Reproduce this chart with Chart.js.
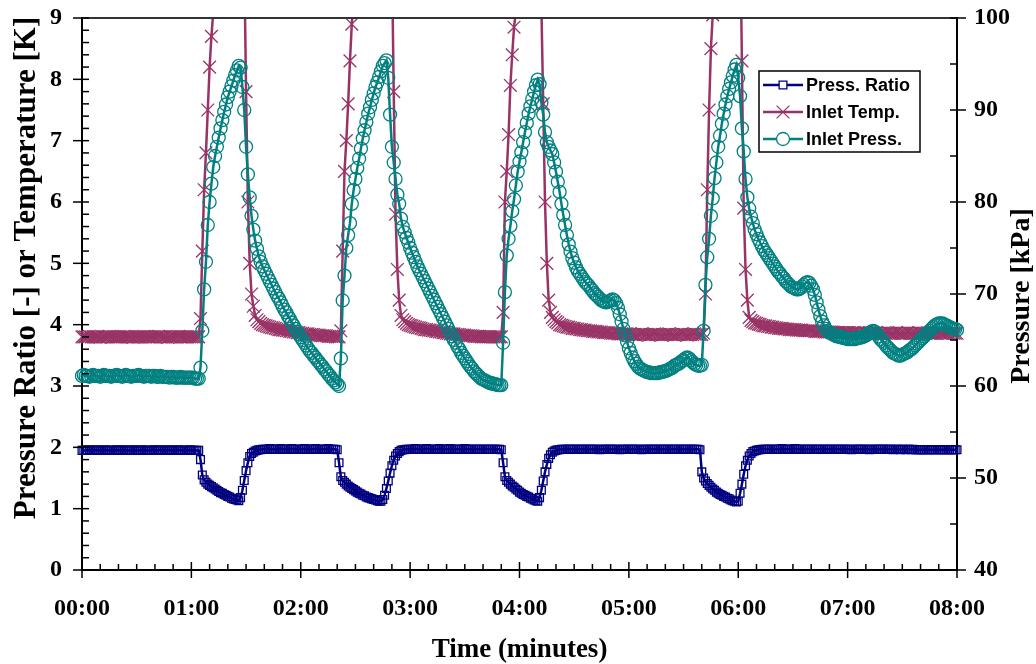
<!DOCTYPE html>
<html>
<head>
<meta charset="utf-8">
<script src="https://cdn.jsdelivr.net/npm/chart.js@4/dist/chart.umd.min.js"></script>
<style>
  body { margin: 0; background: #fff; }
</style>
</head>
<body>
<canvas id="chart" width="1036" height="664"></canvas>
<script>
// logged once a second, 00:00 to 08:00 (one row = 20 s)
const SAMPLE_S = 1

const timeLabels = ['00:00', '01:00', '02:00', '03:00', '04:00', '05:00', '06:00', '07:00', '08:00']

// Press. Ratio [-] (left axis)
const pressRatio = [
  1.95,1.95,1.95,1.96,1.95,1.95,1.95,1.95,1.96,1.95,1.95,1.95,1.95,1.96,1.95,1.95,1.95,1.95,1.95,1.96,
  1.95,1.95,1.95,1.96,1.95,1.95,1.95,1.95,1.96,1.95,1.95,1.95,1.95,1.96,1.95,1.95,1.95,1.95,1.95,1.96,
  1.95,1.95,1.95,1.96,1.95,1.95,1.95,1.95,1.96,1.95,1.95,1.95,1.95,1.96,1.95,1.95,1.95,1.95,1.95,1.96,
  1.95,1.95,1.95,1.95,1.95,1.80,1.55,1.47,1.43,1.40,1.38,1.36,1.34,1.32,1.30,1.28,1.26,1.25,1.23,1.22,
  1.20,1.19,1.17,1.16,1.15,1.14,1.13,1.18,1.30,1.46,1.62,1.75,1.85,1.90,1.92,1.94,1.95,1.96,1.96,1.97,
  1.97,1.97,1.97,1.98,1.97,1.97,1.97,1.97,1.97,1.98,1.97,1.97,1.97,1.97,1.97,1.98,1.97,1.97,1.97,1.97,
  1.97,1.97,1.98,1.97,1.97,1.97,1.97,1.97,1.98,1.97,1.97,1.97,1.97,1.97,1.97,1.98,1.97,1.97,1.97,1.97,
  1.96,1.75,1.52,1.46,1.43,1.40,1.37,1.35,1.33,1.31,1.29,1.27,1.25,1.24,1.22,1.21,1.19,1.18,1.17,1.16,
  1.15,1.14,1.13,1.12,1.12,1.15,1.22,1.33,1.45,1.58,1.70,1.79,1.86,1.90,1.93,1.95,1.96,1.96,1.97,1.97,
  1.97,1.97,1.97,1.98,1.97,1.97,1.97,1.97,1.97,1.98,1.97,1.97,1.97,1.97,1.97,1.97,1.98,1.97,1.97,1.97,
  1.97,1.97,1.98,1.97,1.97,1.97,1.97,1.97,1.97,1.97,1.98,1.97,1.97,1.97,1.97,1.97,1.97,1.97,1.97,1.97,
  1.97,1.97,1.97,1.97,1.97,1.97,1.97,1.97,1.97,1.97,1.96,1.75,1.52,1.46,1.43,1.40,1.37,1.35,1.32,1.30,
  1.27,1.25,1.23,1.22,1.20,1.19,1.17,1.16,1.14,1.13,1.12,1.18,1.30,1.45,1.60,1.72,1.82,1.88,1.92,1.94,
  1.95,1.96,1.96,1.97,1.97,1.97,1.97,1.97,1.97,1.97,1.97,1.97,1.97,1.97,1.97,1.97,1.97,1.97,1.97,1.97,
  1.97,1.97,1.97,1.97,1.96,1.97,1.97,1.97,1.97,1.97,1.97,1.97,1.97,1.97,1.97,1.96,1.97,1.97,1.97,1.97,
  1.97,1.97,1.97,1.97,1.97,1.97,1.97,1.96,1.97,1.97,1.97,1.97,1.97,1.97,1.97,1.97,1.97,1.97,1.97,1.97,
  1.97,1.97,1.97,1.97,1.97,1.97,1.97,1.97,1.97,1.97,1.97,1.97,1.97,1.97,1.97,1.97,1.97,1.97,1.97,1.96,
  1.60,1.50,1.45,1.41,1.38,1.35,1.32,1.30,1.27,1.25,1.23,1.22,1.20,1.19,1.17,1.16,1.14,1.13,1.12,1.11,
  1.12,1.25,1.40,1.56,1.70,1.79,1.86,1.90,1.93,1.94,1.95,1.96,1.96,1.97,1.97,1.97,1.97,1.97,1.97,1.97,
  1.97,1.97,1.97,1.97,1.98,1.97,1.97,1.97,1.97,1.97,1.97,1.98,1.97,1.97,1.97,1.97,1.97,1.97,1.97,1.97,
  1.97,1.97,1.97,1.97,1.97,1.97,1.97,1.97,1.97,1.97,1.97,1.97,1.97,1.97,1.97,1.97,1.97,1.97,1.97,1.97,
  1.97,1.97,1.96,1.97,1.97,1.97,1.97,1.97,1.97,1.97,1.97,1.97,1.96,1.97,1.97,1.97,1.97,1.97,1.97,1.97,
  1.97,1.97,1.97,1.97,1.97,1.96,1.97,1.97,1.97,1.96,1.97,1.97,1.96,1.97,1.97,1.96,1.97,1.96,1.96,1.96,
  1.96,1.96,1.96,1.96,1.96,1.96,1.96,1.96,1.96,1.96,1.96,1.96,1.96,1.96,1.96,1.96,1.96,1.96,1.96,1.96,
  1.96
]

// Inlet Temp. [K] (left axis, peaks run off the top)
const inletTemp = [
  3.80,3.80,3.80,3.80,3.81,3.80,3.80,3.80,3.80,3.80,3.79,3.80,3.80,3.80,3.80,3.81,3.80,3.80,3.80,3.80,
  3.80,3.80,3.80,3.81,3.80,3.80,3.80,3.80,3.79,3.80,3.80,3.80,3.80,3.80,3.81,3.80,3.80,3.80,3.80,3.80,
  3.80,3.80,3.81,3.80,3.80,3.80,3.80,3.79,3.80,3.80,3.80,3.80,3.80,3.81,3.80,3.80,3.80,3.80,3.80,3.80,
  3.80,3.80,3.80,3.80,3.80,4.10,5.20,6.20,6.80,7.50,8.20,8.70,9.10,9.70,10.3,10.8,11.2,11.6,11.9,12.2,
  12.4,12.6,12.7,12.8,12.8,12.7,12.6,12.3,11.5,10.0,7.80,6.00,5.00,4.50,4.30,4.15,4.08,4.05,4.02,4.00,
  3.99,3.98,3.97,3.96,3.95,3.95,3.94,3.93,3.92,3.92,3.91,3.91,3.90,3.90,3.89,3.89,3.88,3.88,3.87,3.87,
  3.86,3.86,3.85,3.85,3.85,3.84,3.84,3.84,3.83,3.83,3.83,3.82,3.82,3.82,3.82,3.81,3.81,3.81,3.81,3.80,
  3.80,3.80,3.90,5.20,6.50,7.00,7.60,8.30,8.90,9.40,9.90,10.4,10.8,11.1,11.4,11.7,11.9,12.1,12.2,12.3,
  12.4,12.5,12.5,12.5,12.5,12.4,12.3,12.1,11.9,11.2,10.0,7.80,5.80,4.90,4.40,4.15,4.08,4.05,4.02,4.00,
  3.99,3.98,3.97,3.96,3.95,3.95,3.94,3.93,3.92,3.92,3.91,3.91,3.90,3.90,3.89,3.89,3.88,3.88,3.87,3.87,
  3.86,3.86,3.85,3.85,3.85,3.84,3.84,3.84,3.83,3.83,3.83,3.82,3.82,3.82,3.82,3.81,3.81,3.81,3.81,3.80,
  3.80,3.80,3.80,3.80,3.80,3.80,3.80,3.80,3.80,3.80,3.80,4.20,6.00,6.50,7.10,7.90,8.40,8.85,9.10,9.70,
  10.2,10.6,11.0,11.3,11.6,11.8,12.0,12.1,12.1,12.0,11.6,10.8,9.20,7.60,6.00,5.00,4.40,4.20,4.12,4.08,
  4.05,4.03,4.00,3.99,3.98,3.97,3.96,3.96,3.95,3.94,3.94,3.93,3.93,3.92,3.92,3.91,3.91,3.90,3.90,3.90,
  3.89,3.89,3.89,3.88,3.88,3.88,3.87,3.87,3.87,3.87,3.86,3.86,3.86,3.86,3.85,3.85,3.85,3.85,3.85,3.85,
  3.84,3.85,3.84,3.84,3.83,3.84,3.84,3.85,3.84,3.84,3.84,3.83,3.84,3.84,3.85,3.84,3.84,3.84,3.83,3.84,
  3.84,3.84,3.85,3.84,3.84,3.83,3.84,3.84,3.84,3.85,3.84,3.84,3.83,3.84,3.84,3.84,3.85,3.84,3.84,3.84,
  3.84,3.86,4.50,6.20,7.50,8.50,9.05,9.70,10.2,10.6,11.0,11.3,11.6,11.8,12.0,12.1,12.2,12.2,12.1,11.8,
  11.3,10.6,8.30,5.90,4.90,4.40,4.12,4.07,4.05,4.03,4.02,4.01,4.00,3.99,3.98,3.98,3.97,3.97,3.96,3.96,
  3.95,3.95,3.94,3.94,3.94,3.93,3.93,3.93,3.92,3.92,3.92,3.92,3.91,3.91,3.91,3.91,3.90,3.90,3.90,3.90,
  3.90,3.90,3.89,3.89,3.89,3.89,3.89,3.88,3.88,3.88,3.88,3.88,3.88,3.87,3.87,3.87,3.87,3.87,3.87,3.87,
  3.87,3.87,3.86,3.87,3.87,3.86,3.87,3.86,3.86,3.87,3.86,3.86,3.87,3.86,3.86,3.86,3.87,3.86,3.86,3.86,
  3.86,3.86,3.87,3.86,3.86,3.86,3.86,3.87,3.86,3.86,3.86,3.86,3.86,3.87,3.86,3.86,3.86,3.86,3.86,3.87,
  3.86,3.86,3.86,3.86,3.87,3.86,3.86,3.86,3.86,3.86,3.87,3.86,3.86,3.86,3.86,3.86,3.86,3.87,3.86,3.86,
  3.86
]

// Inlet Press. [kPa] (right axis)
const inletPress = [
  61.1,61.2,61.1,61.1,61.0,61.1,61.2,61.1,61.1,61.1,61.0,61.1,61.2,61.1,61.1,61.1,61.0,61.1,61.1,61.2,
  61.1,61.1,61.0,61.1,61.2,61.1,61.1,61.0,61.1,61.1,61.1,61.2,61.1,61.1,61.0,61.1,61.1,61.1,61.0,61.1,
  61.1,61.0,61.0,61.1,61.0,61.0,61.0,61.0,60.9,61.0,61.0,60.9,60.9,60.9,61.0,60.9,60.9,60.9,60.9,60.9,
  60.9,60.9,60.8,60.8,60.8,62.0,66.0,70.5,73.5,77.5,80.0,82.0,83.8,85.0,86.0,87.0,88.0,88.9,89.8,90.6,
  91.4,92.0,92.6,93.2,93.8,94.3,94.8,94.6,92.5,90.0,86.0,83.0,80.5,78.5,77.0,75.8,74.9,74.1,73.5,73.0,
  72.6,72.2,71.8,71.4,71.0,70.6,70.2,69.8,69.5,69.1,68.7,68.3,68.0,67.6,67.3,66.9,66.6,66.2,65.9,65.6,
  65.3,65.0,64.7,64.4,64.1,63.8,63.6,63.3,63.1,62.8,62.6,62.3,62.1,61.8,61.6,61.3,61.1,60.8,60.6,60.4,
  60.2,60.0,63.0,69.3,72.0,75.0,76.4,77.7,79.8,81.3,82.5,83.7,84.7,85.8,86.9,87.8,88.7,89.6,90.3,91.1,
  91.8,92.5,93.0,93.6,94.2,94.8,95.1,95.4,93.5,89.5,86.0,84.3,82.5,80.8,79.8,78.2,77.3,76.7,76.1,75.6,
  75.0,74.5,74.0,73.5,73.0,72.6,72.2,71.8,71.4,71.0,70.6,70.2,69.8,69.4,69.0,68.6,68.2,67.8,67.4,67.0,
  66.6,66.2,65.8,65.4,65.0,64.7,64.3,64.0,63.6,63.3,63.0,62.7,62.4,62.1,61.9,61.6,61.4,61.2,61.0,60.8,
  60.7,60.6,60.5,60.4,60.3,60.3,60.2,60.2,60.1,60.1,60.1,64.7,70.2,74.2,76.0,77.4,79.0,80.3,81.8,83.3,
  84.4,85.4,86.5,87.6,88.6,89.6,90.4,91.2,92.0,92.7,93.3,92.8,90.8,89.5,87.6,86.5,86.0,85.6,85.2,84.3,
  83.3,82.2,81.1,79.8,78.6,77.5,76.4,75.4,74.6,73.9,73.4,72.9,72.5,72.2,71.9,71.6,71.3,71.1,70.9,70.6,
  70.4,70.1,69.9,69.7,69.5,69.3,69.2,69.1,69.1,69.2,69.3,69.4,69.3,69.0,68.5,67.8,67.0,66.2,65.5,64.8,
  64.1,63.6,63.1,62.7,62.4,62.1,61.9,61.8,61.7,61.6,61.5,61.5,61.4,61.4,61.4,61.4,61.4,61.5,61.5,61.6,
  61.6,61.7,61.8,61.9,62.0,62.2,62.3,62.4,62.5,62.7,62.8,63.0,63.1,63.0,62.8,62.6,62.4,62.3,62.2,62.2,
  62.3,66.0,71.0,74.0,76.0,78.5,80.4,82.6,84.3,86.0,87.2,88.5,89.6,90.6,91.5,92.3,93.0,93.7,94.4,94.9,
  93.5,91.5,88.0,85.5,82.5,80.5,79.3,78.4,77.7,77.0,76.5,76.0,75.6,75.2,74.8,74.5,74.2,73.9,73.6,73.3,
  73.0,72.7,72.4,72.2,71.9,71.7,71.4,71.2,71.0,70.8,70.7,70.6,70.5,70.5,70.6,70.8,71.0,71.2,71.3,71.2,
  70.9,70.5,69.9,69.1,68.3,67.6,67.0,66.6,66.2,66.0,65.8,65.7,65.6,65.5,65.4,65.4,65.3,65.3,65.2,65.2,
  65.1,65.1,65.1,65.1,65.1,65.2,65.2,65.3,65.3,65.4,65.5,65.6,65.8,65.9,66.0,65.9,65.7,65.4,65.1,64.9,
  64.7,64.4,64.2,64.0,63.8,63.6,63.5,63.4,63.3,63.3,63.4,63.5,63.6,63.7,63.9,64.0,64.2,64.4,64.6,64.8,
  65.0,65.2,65.4,65.6,65.8,66.0,66.2,66.4,66.6,66.7,66.8,66.8,66.8,66.7,66.6,66.5,66.4,66.3,66.2,66.2,
  66.1
]

const SERIF = "'Liberation Serif', 'Times New Roman', serif"
const SANS = "'Liberation Sans', Arial, sans-serif"

let toPoints = (arr) => arr.map((v, i) => ({x: i * SAMPLE_S, y: v}))

// tick marks (majors cross the axis, minors point inwards), frame top, y titles
const axisDecor = {
  id: 'axisDecor',
  afterDraw(chart) {
    const {ctx, chartArea: a, scales} = chart
    const line = (x1, y1, x2, y2) => { ctx.beginPath(); ctx.moveTo(x1, y1); ctx.lineTo(x2, y2); ctx.stroke() }
    ctx.save()
    ctx.strokeStyle = '#333'
    ctx.lineWidth = 2
    line(a.left, a.top, a.right, a.top)
    ctx.strokeStyle = '#000'
    ctx.lineWidth = 1.5
    for (let v = 0; v <= 480; v += 10) {
      const x = scales.x.getPixelForValue(v)
      const major = v % 60 === 0
      line(x, a.bottom - (major ? 8 : 6), x, a.bottom + (major ? 8 : 0))
    }
    for (let i = 0; i <= 45; i++) {
      const y = scales.y.getPixelForValue(i * 0.2)
      const major = i % 5 === 0
      line(a.left - (major ? 9 : 0), y, a.left + 7, y)
    }
    for (let v = 40; v <= 100; v += 5) {
      const y = scales.y1.getPixelForValue(v)
      const major = v % 10 === 0
      line(a.right - 7, y, a.right + (major ? 9 : 0), y)
    }
    ctx.fillStyle = '#000'
    ctx.textAlign = 'center'
    ctx.textBaseline = 'middle'
    const vtext = (txt, size, x, y) => {
      ctx.save()
      ctx.font = 'bold ' + size + 'px ' + SERIF
      ctx.translate(x, y)
      ctx.rotate(-Math.PI / 2)
      ctx.fillText(txt, 0, 0)
      ctx.restore()
    }
    vtext('Pressure Ratio [-] or Temperature [K]', 31, 27, 268)
    vtext('Pressure [kPa]', 28, 1022, 296)
    ctx.restore()
  }
}

// boxed legend inside the plot, top right
const boxLegend = {
  id: 'boxLegend',
  afterDraw(chart) {
    const {ctx, chartArea: a} = chart
    const left = a.right - 198, top = a.top + 53
    ctx.save()
    ctx.fillStyle = '#fff'
    ctx.fillRect(left, top, 161, 81)
    ctx.strokeStyle = '#000'
    ctx.lineWidth = 1.5
    ctx.strokeRect(left, top, 161, 81)
    const order = [0, 2, 1]
    order.forEach((di, row) => {
      const ds = chart.data.datasets[di]
      const y = top + 14 + row * 27
      ctx.strokeStyle = ds.borderColor
      ctx.lineWidth = ds.borderWidth
      ctx.beginPath(); ctx.moveTo(left + 4, y); ctx.lineTo(left + 44, y); ctx.stroke()
      ctx.lineWidth = ds.pointBorderWidth
      ctx.fillStyle = '#fff'
      Chart.helpers.drawPoint(ctx, {pointStyle: ds.pointStyle, radius: ds.pointRadius, rotation: 0, borderWidth: ds.pointBorderWidth}, left + 24, y)
      ctx.fillStyle = '#000'
      ctx.font = 'bold 18px ' + SANS
      ctx.textAlign = 'left'
      ctx.textBaseline = 'middle'
      ctx.fillText(ds.label, left + 47, y + 1)
    })
    ctx.restore()
  }
}

const tickFont = {family: SERIF, size: 24, weight: 'bold'}

// fixed axis sizes so the plot sits where the original does
const fixWidth = (w) => (s) => { s.width = w; s.paddingTop = 0; s.paddingBottom = 0 }

new Chart(document.getElementById('chart'), {
  type: 'line',
  data: {
    datasets: [{
      label: 'Press. Ratio',
      data: toPoints(pressRatio),
      yAxisID: 'y',
      borderColor: '#000080',
      borderWidth: 2.5,
      pointStyle: 'rect',
      pointRadius: 5.5,
      pointBorderWidth: 1.3,
      pointBackgroundColor: 'rgba(0,0,0,0)',
      pointBorderColor: '#000080',
      clip: 12
    }, {
      label: 'Inlet Press.',
      data: toPoints(inletPress),
      yAxisID: 'y1',
      borderColor: '#008080',
      borderWidth: 2.5,
      pointStyle: 'circle',
      pointRadius: 6.5,
      pointBorderWidth: 1.3,
      pointBackgroundColor: 'rgba(0,0,0,0)',
      pointBorderColor: '#008080',
      clip: 12
    }, {
      label: 'Inlet Temp.',
      data: toPoints(inletTemp),
      yAxisID: 'y',
      borderColor: '#993366',
      borderWidth: 2.5,
      pointStyle: 'crossRot',
      pointRadius: 9,
      pointBorderWidth: 1.3,
      pointBackgroundColor: 'rgba(0,0,0,0)',
      pointBorderColor: '#993366',
      clip: {left: 12, right: 12, top: 0, bottom: 12}
    }]
  },
  options: {
    responsive: false,
    devicePixelRatio: 1,
    animation: false,
    layout: {padding: {top: 18, left: 0, right: 0, bottom: 0}},
    plugins: {legend: {display: false}, tooltip: {enabled: false}},
    scales: {
      x: {
        type: 'linear',
        min: 0, max: 480,
        afterFit: (s) => { s.height = 94 },
        grid: {display: false, drawTicks: false},
        border: {display: true, color: '#000', width: 2},
        ticks: {
          stepSize: 60, padding: 24, color: '#000', font: tickFont, maxRotation: 0,
          callback: (v) => timeLabels[v / 60]
        },
        title: {display: true, text: 'Time (minutes)', color: '#000',
                font: {family: SERIF, size: 27, weight: 'bold', lineHeight: 1}, padding: {top: 0, bottom: 0}}
      },
      y: {
        position: 'left',
        min: 0, max: 9,
        afterFit: fixWidth(82),
        grid: {display: false, drawTicks: false},
        border: {display: true, color: '#000', width: 2},
        ticks: {stepSize: 1, padding: 20, color: '#000', font: tickFont}
      },
      y1: {
        position: 'right',
        min: 40, max: 100,
        afterFit: fixWidth(79),
        grid: {display: false, drawTicks: false},
        border: {display: true, color: '#000', width: 2},
        ticks: {stepSize: 10, padding: 17, color: '#000', font: tickFont}
      }
    }
  },
  plugins: [axisDecor, boxLegend]
})
</script>
</body>
</html>
